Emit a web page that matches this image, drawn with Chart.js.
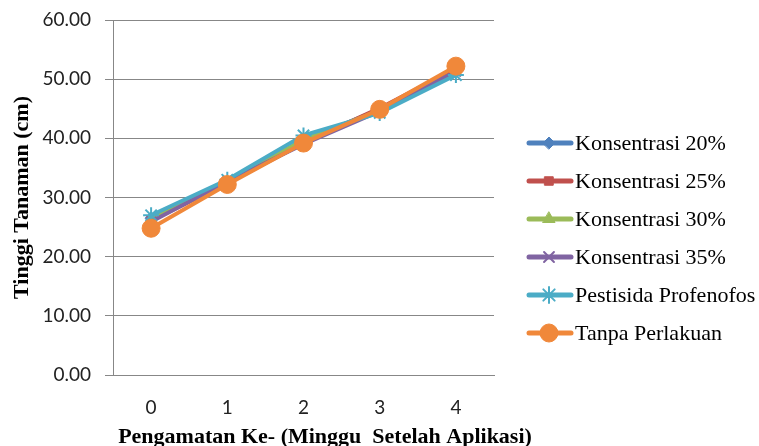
<!DOCTYPE html>
<html>
<head>
<meta charset="utf-8">
<script src="https://cdn.jsdelivr.net/npm/chart.js@4.4.1/dist/chart.umd.min.js"></script>
<style>
  html, body { margin: 0; padding: 0; background: #ffffff; }
  #wrap { width: 759px; height: 446px; position: relative; }
</style>
</head>
<body>
<div id="wrap"><canvas id="c" width="759" height="446"></canvas></div>
<script>
// Week after application
const weeks = ['0', '1', '2', '3', '4'];

// Plant height (cm) per treatment
const konsentrasi20 = [26.5, 32.6, 39.6, 44.9, 51.5];
const konsentrasi25 = [26.1, 32.4, 39.2, 45.1, 51.8];
const konsentrasi30 = [26.3, 32.5, 39.8, 44.7, 51.2];
const konsentrasi35 = [25.9, 32.7, 39.0, 44.6, 51.3];
const profenofos    = [27.0, 33.0, 40.5, 44.3, 50.7];
const tanpaPerlakuan = [24.8, 32.2, 39.2, 44.9, 52.2];

const seriesNames = ['Konsentrasi 20%', 'Konsentrasi 25%', 'Konsentrasi 30%',
                     'Konsentrasi 35%', 'Pestisida Profenofos', 'Tanpa Perlakuan'];
const yTicks = [0, 10, 20, 30, 40, 50, 60];

const colors  = ['#4F81BD', '#C0504D', '#9BBB59', '#8064A2', '#4BACC6', '#F0883A'];
const markers = ['rectRot', 'rect', 'triangle', 'crossRot', 'star', 'circle'];
const radii   = [6, 6, 7, 7, 8, 9];
const values  = [konsentrasi20, konsentrasi25, konsentrasi30, konsentrasi35, profenofos, tanpaPerlakuan];

const datasets = values.map((v, i) => ({
  label: seriesNames[i],
  data: v,
  borderColor: colors[i],
  backgroundColor: colors[i],
  pointBackgroundColor: colors[i],
  pointBorderColor: colors[i],
  pointStyle: markers[i],
  pointRadius: radii[i],
  pointBorderWidth: (markers[i] === 'crossRot' || markers[i] === 'star') ? 2 : 1,
  borderWidth: 4,
  tension: 0,
  order: 6 - i
}));

// Legend on the right: line sample with marker, then the series name
const sideLegend = {
  id: 'sideLegend',
  afterDraw(chart) {
    const ctx = chart.ctx;
    ctx.save();
    datasets.forEach((d, i) => {
      const y = 143 + i * 38;
      ctx.strokeStyle = d.borderColor;
      ctx.lineWidth = 5;
      ctx.lineCap = 'round';
      ctx.beginPath();
      ctx.moveTo(529, y);
      ctx.lineTo(571, y);
      ctx.stroke();
      ctx.fillStyle = d.backgroundColor;
      ctx.strokeStyle = d.borderColor;
      ctx.lineWidth = d.pointBorderWidth;
      Chart.helpers.drawPoint(ctx, { pointStyle: d.pointStyle, radius: d.pointRadius, rotation: 0, borderWidth: d.pointBorderWidth }, 549, y);
      ctx.fillStyle = '#000000';
      ctx.font = '22px "Liberation Serif"';
      ctx.textBaseline = 'middle';
      ctx.textAlign = 'left';
      ctx.fillText(d.label, 575, y + 1);
    });
    // horizontal axis title
    ctx.font = 'bold 22px "Liberation Serif"';
    ctx.textAlign = 'center';
    ctx.textBaseline = 'middle';
    ctx.fillStyle = '#000000';
    ctx.fillText('Pengamatan Ke- (Minggu  Setelah Aplikasi)', 325, 437);
    ctx.restore();
  }
};

new Chart(document.getElementById('c'), {
  type: 'line',
  data: { labels: weeks, datasets },
  options: {
    responsive: false,
    animation: false,
    layout: { padding: { top: 20, right: 265, bottom: 0, left: 0 } },
    plugins: { legend: { display: false }, tooltip: { enabled: false } },
    scales: {
      x: {
        offset: true,
        grid: { display: false, drawTicks: false },
        border: { color: '#878787', width: 1 },
        ticks: { color: '#222222', font: { family: 'Lato', size: 19 }, padding: 21 },
        afterFit(s) { s.height = 71; }
      },
      y: {
        min: 0, max: 60,
        afterBuildTicks(s) { s.ticks = yTicks.map(v => ({ value: v })); },
        grid: { color: '#878787', lineWidth: 1, tickLength: 8 },
        border: { color: '#878787', width: 1 },
        ticks: {
          color: '#222222',
          font: { family: 'Lato', size: 19 },
          padding: 14,
          callback: v => v.toFixed(2)
        },
        title: {
          display: true,
          text: 'Tinggi Tanaman (cm)',
          color: '#000000',
          font: { family: 'Liberation Serif', size: 22, weight: 'bold' },
          padding: { top: 9, bottom: 0 }
        },
        afterFit(s) { s.width = 113; s.paddingTop = 0; s.paddingBottom = 0; }
      }
    }
  },
  plugins: [sideLegend]
});
</script>
</body>
</html>
